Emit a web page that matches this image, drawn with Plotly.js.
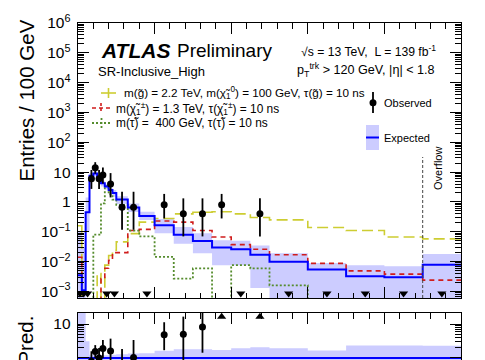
<!DOCTYPE html>
<html><head><meta charset="utf-8">
<script src="https://cdn.plot.ly/plotly-3.0.1.min.js"></script>
<style>html,body{margin:0;padding:0;background:#fff;} #chart{width:485px;height:360px;}</style>
</head><body><div id="chart"></div>
<script>
// ---------- data (Entries / 100 GeV) ----------
const binEdges = [0,50,100,150,200,250,300,350,400,450,500,650,800,1000,1250,1500,1750,2000,2250,2500,3000,3500,4000,4500,5000];
const expected = [0.0035,0.0011,0.45,7.5,9.0,6.0,4.2,3.3,2.5,2.0,1.2,0.65,0.34,0.165,0.08,0.049,0.03,0.026,0.017,0.0098,0.0054,0.0032,0.003,0.0079];
const expHigh  = [0.1,0.03,1.4,9.3,10.8,7.2,5.1,4.0,3.0,2.5,1.55,0.88,0.47,0.27,0.145,0.089,0.052,0.05,0.035,0.019,0.009,0.0075,0.007,0.018];
const expLow   = [0,0,0.1,5.7,7.2,4.8,3.3,2.6,1.9,1.5,0.85,0.46,0.25,0.089,0.04,0.019,0.0076,0.0076,0.0013,0,0,0,0,0];
const observed   = [0,0,0,6,14,6,8,0,4,0,0.667,0.667,0,0.8,0.4,0.4,0.8,0,0.4,0,0,0,0,0];
const obsErrUp   = [0,0,0,5.84,7.54,5.84,6.32,0,5.28,0,1.53,1.53,0,1.06,0.92,0.92,1.06,0,0.92,0,0,0,0,0];
const obsErrDown = [0,0,0,3.26,5.16,3.26,3.82,0,2.58,0,0.55,0.55,0,0.52,0.33,0.33,0.52,0,0.33,0,0,0,0,0];
const sigGluino   = [0.16,0,0,0,0,0.004,0,0.0076,0.016,0.024,0.046,0.087,0.21,0.28,0.4,0.45,0.47,0.4,0.3,0.25,0.14,0.11,0.067,0.058];
const sigChargino = [0.014,0,0,0,0,0,0.0027,0.006,0.011,0.02,0.02,0.11,0.12,0.23,0.21,0.11,0.067,0.037,0.026,0.017,0.0087,0.0049,0.0038,0.0024];
const sigStau     = [0,0,0,0,0.08,0.08,0.9,3.4,1.8,1.2,0.8,0.11,0.07,0.0145,0.0027,0.0059,0,0.0076,0.0059,0.0016,0,0,0,0];
const overflowEdge = 4500;
const legendSignal = [
  'm(g\u0303) = 2.2 TeV, m(\u03c7\u0303<sub>1</sub><sup>0</sup>) = 100 GeV, \u03c4(g\u0303) = 10 ns',
  'm(\u03c7\u0303<sub>1</sub><sup>\u00b1</sup>) = 1.3 TeV, \u03c4(\u03c7\u0303<sub>1</sub><sup>\u00b1</sup>) = 10 ns',
  'm(\u03c4\u0303) =  400 GeV, \u03c4(\u03c4\u0303) = 10 ns'
];

// ---------- style ----------
const FONT = 'Liberation Sans, Arial, Helvetica, sans-serif';
const C_BAND = 'rgb(204,204,255)', C_EXP = '#0000ff';
const C_GL = 'rgb(205,205,50)', C_CH = '#d01c1c', C_ST = 'rgb(85,140,45)';
const Y_MIN = -3.22, Y_MAX = 6.0;
const R_MIN = -0.059, R_MAX = 1.324;
const FLOOR = 1e-9;

// pixel -> paper helpers (plot area 78..461 x, 23..360 y)
const L = 78, R = 461, T = 23, B = 360;
const xp = px => (px - L) / (R - L);
const yp = py => (B - py) / (B - T);

const centers = expected.map((_, i) => (binEdges[i] + binEdges[i+1]) / 2);
const step = v => v.concat([v[v.length-1]]).map(a => a > 0 ? a : FLOOR);

const traces = [];
// main panel band
traces.push({x: binEdges, y: step(expLow), mode: 'lines', line: {width: 0, shape: 'hv'}, hoverinfo: 'skip', xaxis: 'x', yaxis: 'y'});
traces.push({x: binEdges, y: step(expHigh), mode: 'lines', line: {width: 0, shape: 'hv'}, fill: 'tonexty', fillcolor: C_BAND, hoverinfo: 'skip', xaxis: 'x', yaxis: 'y'});
// signals
traces.push({x: binEdges, y: step(sigGluino), mode: 'lines', line: {color: C_GL, width: 1.6, dash: '11px,5px', shape: 'hv'}, xaxis: 'x', yaxis: 'y'});
traces.push({x: binEdges, y: step(sigChargino), mode: 'lines', line: {color: C_CH, width: 1.6, dash: '5px,4px', shape: 'hv'}, xaxis: 'x', yaxis: 'y'});
traces.push({x: binEdges, y: step(sigStau), mode: 'lines', line: {color: C_ST, width: 1.8, dash: '2px,2px', shape: 'hv'}, xaxis: 'x', yaxis: 'y'});
// expected
traces.push({x: binEdges, y: step(expected), mode: 'lines', line: {color: C_EXP, width: 2, shape: 'hv'}, xaxis: 'x', yaxis: 'y'});
// observed
const oi = observed.map((v, i) => i).filter(i => observed[i] > 0);
traces.push({x: oi.map(i => centers[i]), y: oi.map(i => observed[i]), mode: 'markers',
  marker: {color: 'black', size: 7},
  error_y: {type: 'data', symmetric: false, array: oi.map(i => obsErrUp[i]), arrayminus: oi.map(i => obsErrDown[i]), color: 'black', thickness: 1.8, width: 0},
  xaxis: 'x', yaxis: 'y'});
// zero-count bins
const zi = observed.map((v, i) => i).filter(i => observed[i] === 0);
traces.push({x: zi.map(i => centers[i]), y: zi.map(() => Math.pow(10, Y_MIN + 0.15)), mode: 'markers',
  marker: {color: 'black', size: 8, symbol: 'triangle-down'}, xaxis: 'x', yaxis: 'y'});

// ratio panel
const rLow = expLow.map((v, i) => v / expected[i]);
const rHigh = expHigh.map((v, i) => v / expected[i]);
traces.push({x: binEdges, y: step(rLow), mode: 'lines', line: {width: 0, shape: 'hv'}, hoverinfo: 'skip', xaxis: 'x2', yaxis: 'y2'});
traces.push({x: binEdges, y: step(rHigh), mode: 'lines', line: {width: 0, shape: 'hv'}, fill: 'tonexty', fillcolor: C_BAND, hoverinfo: 'skip', xaxis: 'x2', yaxis: 'y2'});
traces.push({x: binEdges, y: step(expected.map(e => e / e)), mode: 'lines', line: {color: C_EXP, width: 2, shape: 'hv'}, xaxis: 'x2', yaxis: 'y2'});
const ratio = observed.map((v, i) => v / expected[i]);
const rin = oi.filter(i => ratio[i] <= Math.pow(10, R_MAX));
const rout = oi.filter(i => ratio[i] > Math.pow(10, R_MAX));
traces.push({x: rin.map(i => centers[i]), y: rin.map(i => ratio[i]), mode: 'markers',
  marker: {color: 'black', size: 7},
  error_y: {type: 'data', symmetric: false, array: rin.map(i => obsErrUp[i] / expected[i]), arrayminus: rin.map(i => obsErrDown[i] / expected[i]), color: 'black', thickness: 1.8, width: 0},
  xaxis: 'x2', yaxis: 'y2'});
traces.push({x: rout.map(i => centers[i]), y: rout.map(() => Math.pow(10, R_MAX - 0.11)), mode: 'markers',
  marker: {color: 'black', size: 8, symbol: 'triangle-up'}, xaxis: 'x2', yaxis: 'y2'});

const xAxisCommon = {range: [0, 5000], showticklabels: false, ticks: 'inside', dtick: 1000, tick0: 0, ticklen: 11, tickwidth: 1, tickcolor: 'black',
  minor: {ticks: 'inside', dtick: 200, tick0: 0, ticklen: 5.5, tickwidth: 1, tickcolor: 'black', showgrid: false},
  showgrid: false, zeroline: false, showline: true, linecolor: 'black', linewidth: 1};
const yAxisCommon = {type: 'log', dtick: 1, tick0: 0, exponentformat: 'power', ticks: 'inside', ticklen: 11, tickwidth: 1, tickcolor: 'black',
  minor: {ticks: 'inside', dtick: 'D1', ticklen: 6, tickwidth: 1, tickcolor: 'black', showgrid: false},
  tickfont: {family: FONT, size: 12.4, color: 'black'}, ticklabelstandoff: 4,
  showgrid: false, zeroline: false, showline: true, linecolor: 'black', linewidth: 1, mirror: 'ticks'};

const ann = [];
const A = (text, px, py, size, opts) => ann.push(Object.assign({text: text, xref: 'paper', yref: 'paper', x: xp(px), y: yp(py), xanchor: 'left', yanchor: 'middle', showarrow: false, font: {family: FONT, size: size, color: 'black'}}, opts || {}));
A('<b><i>ATLAS</i></b>', 99, 50, 21);
A('Preliminary', 175, 50, 19);
A('SR-Inclusive_High', 96, 71, 13);
A('\u221as = 13 TeV,  L = 139 fb<sup>-1</sup>', 438, 51, 12.2, {xanchor: 'right'});
A('p<sub>T</sub><sup>trk</sup> > 120 GeV, |\u03b7| < 1.8', 437, 70, 12.6, {xanchor: 'right'});
A(legendSignal[0], 122, 93, 11.7);
A(legendSignal[1], 114, 108, 11.9);
A(legendSignal[2], 114, 123, 11.9);
A('Observed', 382, 103, 11);
A('Expected', 382, 137.5, 11);
A('Overflow', 438, 169, 11, {xanchor: 'center', textangle: -90});
A('Entries / 100 GeV', 26, 100.5, 20.5, {xanchor: 'center', textangle: -90});
A('Data / Pred.', 26, 370, 20.5, {xanchor: 'center', textangle: -90});

const shapes = [];
const S = (o) => shapes.push(Object.assign({xref: 'paper', yref: 'paper'}, o));
// overflow separator
shapes.push({type: 'line', xref: 'x', yref: 'paper', x0: overflowEdge, x1: overflowEdge, y0: yp(298), y1: yp(157), line: {color: '#444', width: 1, dash: '3px,2px'}});
// signal legend symbols
S({type: 'line', x0: xp(101), x1: xp(116), y0: yp(93), y1: yp(93), line: {color: C_GL, width: 1.6}});
S({type: 'line', x0: xp(108.5), x1: xp(108.5), y0: yp(88), y1: yp(98), line: {color: C_GL, width: 1.6}});
S({type: 'line', x0: xp(92), x1: xp(110), y0: yp(108), y1: yp(108), line: {color: C_CH, width: 1.6, dash: '4px,3px'}});
S({type: 'line', x0: xp(101), x1: xp(101), y0: yp(103), y1: yp(113), line: {color: C_CH, width: 1.6, dash: '3px,2px'}});
S({type: 'line', x0: xp(92), x1: xp(111), y0: yp(123), y1: yp(123), line: {color: C_ST, width: 1.8, dash: '2px,2px'}});
S({type: 'line', x0: xp(101.5), x1: xp(101.5), y0: yp(118), y1: yp(128), line: {color: C_ST, width: 1.8, dash: '2px,2px'}});
// observed legend
S({type: 'line', x0: xp(373), x1: xp(373), y0: yp(92), y1: yp(113), line: {color: 'black', width: 1.8}});
S({type: 'circle', x0: xp(369.5), x1: xp(376.5), y0: yp(106.2), y1: yp(99.2), fillcolor: 'black', line: {width: 0}});
// expected legend
S({type: 'rect', x0: xp(366), x1: xp(379), y0: yp(150), y1: yp(125), fillcolor: C_BAND, line: {width: 0}});
S({type: 'line', x0: xp(366), x1: xp(379), y0: yp(137.5), y1: yp(137.5), line: {color: C_EXP, width: 2}});

const layout = {
  width: 485, height: 360,
  margin: {l: L, r: 485 - R, t: T, b: 0, pad: 0},
  paper_bgcolor: 'white', plot_bgcolor: 'white',
  showlegend: false,
  font: {family: FONT, color: 'black'},
  xaxis: Object.assign({}, xAxisCommon, {anchor: 'y', mirror: 'ticks'}),
  xaxis2: Object.assign({}, xAxisCommon, {anchor: 'y2', matches: 'x', side: 'top', mirror: false}),
  yaxis: Object.assign({}, yAxisCommon, {domain: [yp(298), 1], range: [Y_MIN, Y_MAX], anchor: 'x'}),
  yaxis2: Object.assign({}, yAxisCommon, {domain: [0, yp(313)], range: [R_MIN, R_MAX], anchor: 'x2'}),
  annotations: ann,
  shapes: shapes
};

Plotly.newPlot('chart', traces, layout, {staticPlot: true, displayModeBar: false});
</script>
</body></html>
